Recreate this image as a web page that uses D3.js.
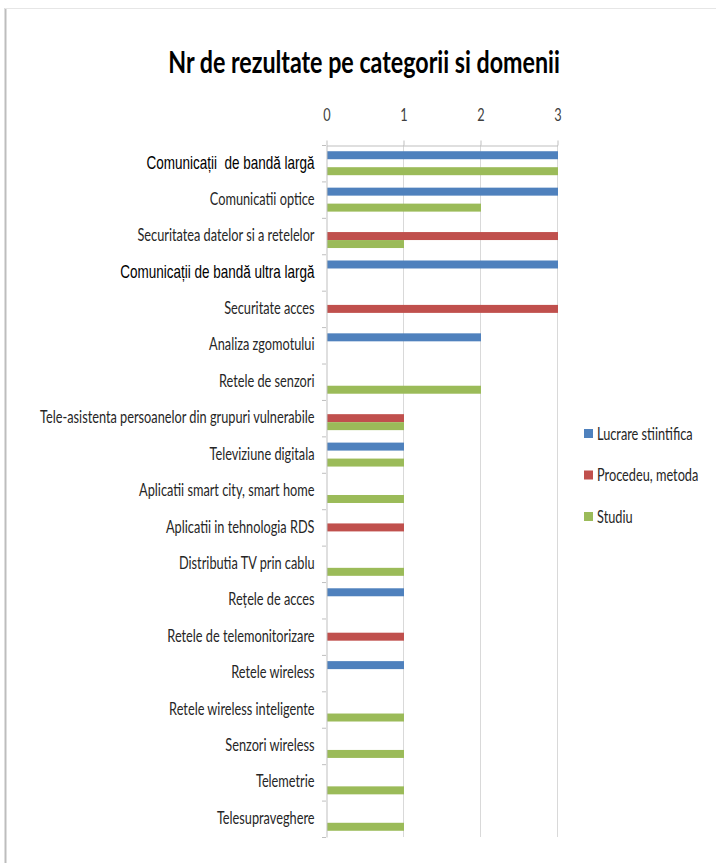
<!DOCTYPE html>
<html>
<head>
<meta charset="utf-8">
<script src="https://cdn.jsdelivr.net/npm/d3@7"></script>
<style>
  body { margin: 0; background: #fff; }
  svg { display: block; }
  text { white-space: pre; }
</style>
</head>
<body>
<svg id="chart"></svg>
<script>
// ---------------- data ----------------
var categories = [
  "Comunicații  de bandă largă",
  "Comunicatii optice",
  "Securitatea datelor si a retelelor",
  "Comunicații de bandă ultra largă",
  "Securitate acces",
  "Analiza zgomotului",
  "Retele de senzori",
  "Tele-asistenta persoanelor din grupuri vulnerabile",
  "Televiziune digitala",
  "Aplicatii smart city, smart home",
  "Aplicatii in tehnologia RDS",
  "Distributia TV prin cablu",
  "Rețele de acces",
  "Retele de telemonitorizare",
  "Retele wireless",
  "Retele wireless inteligente",
  "Senzori wireless",
  "Telemetrie",
  "Telesupraveghere"
];
var lucrare  = [3, 3, 0, 3, 0, 2, 0, 0, 1, 0, 0, 0, 1, 0, 1, 0, 0, 0, 0];
var procedeu = [0, 0, 3, 0, 3, 0, 0, 1, 0, 0, 1, 0, 0, 1, 0, 0, 0, 0, 0];
var studiu   = [3, 2, 1, 0, 0, 0, 2, 1, 1, 1, 0, 1, 0, 0, 0, 1, 1, 1, 1];
var seriesNames = ["Lucrare stiintifica", "Procedeu, metoda", "Studiu"];
var seriesColors = ["#4F81BD", "#C0504D", "#9BBB59"];
var xTicks = [0, 1, 2, 3];
var arialLabels = ["Comunicații  de bandă largă", "Comunicații de bandă ultra largă"];
var title = "Nr de rezultate pe categorii si domenii";

// ---------------- svg ----------------
var width = 716, height = 863;
var svg = d3.select('#chart').attr('width', width).attr('height', height);

// page frame
svg.append('rect').attr('x', 0).attr('y', 0).attr('width', width).attr('height', height).attr('fill', '#fff');
svg.append('line').attr('x1', 5.5).attr('x2', 5.5).attr('y1', 8).attr('y2', height)
   .attr('stroke', '#bdbdbd').attr('stroke-width', 2);
svg.append('line').attr('x1', 5).attr('x2', width).attr('y1', 8.5).attr('y2', 8.5)
   .attr('stroke', '#e6e6e6');

var sx = 0.75; // condensed look

// title
svg.append('text')
   .attr('transform', `translate(364, 73) scale(${sx},1)`)
   .attr('text-anchor', 'middle')
   .style('font-family', 'Lato, "Open Sans", sans-serif')
   .style('font-weight', 'bold')
   .style('font-size', '31px')
   .style('fill', '#000')
   .text(title);

// scales
var x = d3.scaleLinear().domain([0, 3]).range([326, 557]);
var y = d3.scaleBand().domain(categories).range([145, 837]);
var ySub = d3.scaleBand().domain(seriesNames).range([0, y.bandwidth()]).paddingOuter(0.78);

var rows = categories.map((c, i) => ({
  name: c,
  values: [lucrare[i], procedeu[i], studiu[i]]
}));

// grid
svg.append('g').selectAll('line')
   .data(xTicks.slice(1))
   .enter().append('line')
     .attr('x1', d => x(d) + 0.5).attr('x2', d => x(d) + 0.5)
     .attr('y1', 145).attr('y2', 837)
     .attr('stroke', '#d9d9d9');

// top axis
var xAxis = svg.append('g')
   .attr('transform', 'translate(0.5,145.5)')
   .call(d3.axisTop(x).tickValues(xTicks).tickFormat(d3.format('d'))
         .tickSize(5).tickSizeOuter(0).tickPadding(20));
xAxis.select('.domain').attr('stroke', '#bfbfbf');
xAxis.selectAll('.tick line').attr('stroke', '#bfbfbf');
xAxis.selectAll('text')
   .attr('transform', `scale(${sx},1)`)
   .style('font-family', 'Lato, sans-serif')
   .style('font-size', '17px')
   .style('fill', '#404040');

// bars
var groups = svg.append('g').selectAll('.row')
   .data(rows)
   .enter().append('g')
     .classed('row', true)
     .attr('transform', d => `translate(0, ${y(d.name)})`);

groups.selectAll('rect')
   .data(d => d.values.map((v, j) => ({ v: v, s: seriesNames[j], c: seriesColors[j] })))
   .enter().append('rect')
     .attr('x', x(0) + 1)
     .attr('y', d => ySub(d.s))
     .attr('height', ySub.bandwidth())
     .attr('width', d => Math.max(0, x(d.v) - x(0)))
     .attr('fill', d => d.c);

// left axis
var yAxis = svg.append('g')
   .attr('transform', `translate(${x(0) + 0.5},0)`)
   .call(d3.axisLeft(y).tickSize(0).tickPadding(12));
yAxis.select('.domain').attr('stroke', '#bfbfbf');
yAxis.selectAll('text')
   .attr('transform', `scale(${sx},1)`)
   .attr('x', -12 / sx)
   .attr('dy', '0.3em')
   .style('font-family', d => arialLabels.includes(d) ? '"Liberation Sans", Arial, sans-serif' : 'Lato, sans-serif')
   .style('font-size', d => arialLabels.includes(d) ? '18px' : '17px')
   .style('fill', d => arialLabels.includes(d) ? '#000' : '#262626');

// band boundary ticks
svg.append('g').selectAll('line')
   .data(categories.concat([null]))
   .enter().append('line')
     .attr('x1', x(0) - 4).attr('x2', x(0))
     .attr('y1', (d, i) => 145 + i * y.step() + 0.5)
     .attr('y2', (d, i) => 145 + i * y.step() + 0.5)
     .attr('stroke', '#bfbfbf');

// legend
var legend = svg.append('g').attr('transform', 'translate(584, 434)');
var li = legend.selectAll('g')
   .data(seriesNames)
   .enter().append('g')
     .attr('transform', (d, i) => `translate(0, ${i * 41.5})`);
li.append('rect')
   .attr('x', 0).attr('y', -5).attr('width', 9).attr('height', 9)
   .attr('fill', (d, i) => seriesColors[i]);
li.append('text')
   .attr('transform', `translate(13, 0) scale(${sx},1)`)
   .attr('dy', '0.35em')
   .style('font-family', 'Lato, sans-serif')
   .style('font-size', '17px')
   .style('fill', '#262626')
   .text(d => d);
</script>
</body>
</html>
